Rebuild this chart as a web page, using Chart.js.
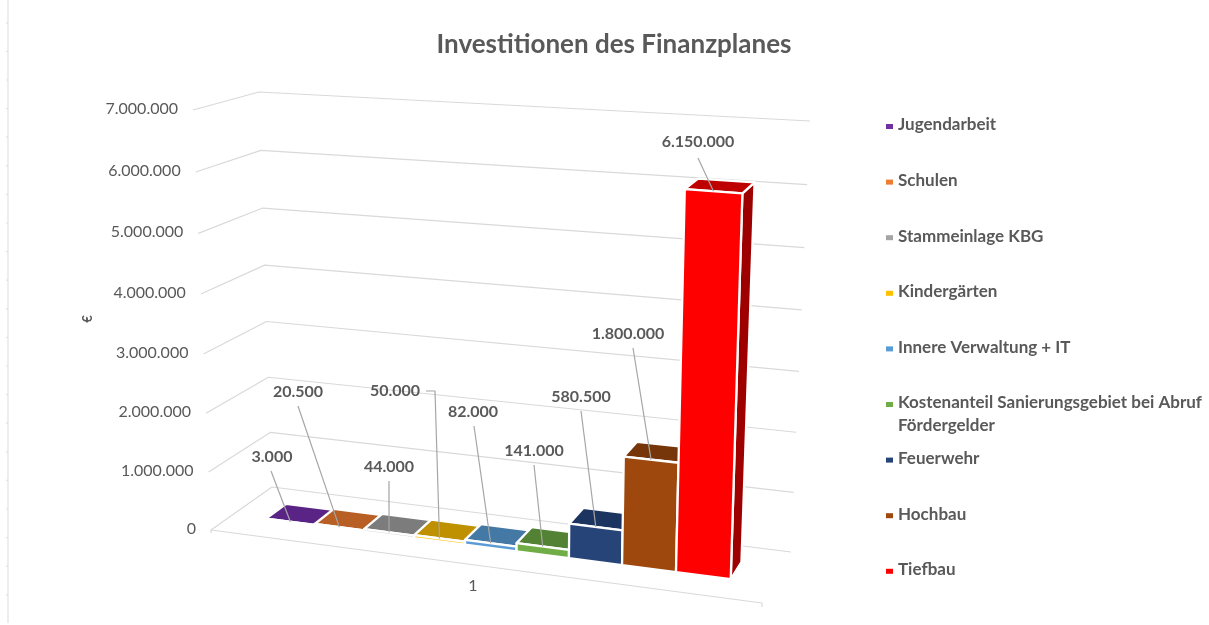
<!DOCTYPE html>
<html lang="de">
<head>
<meta charset="utf-8">
<title>Investitionen des Finanzplanes</title>
<script src="https://cdn.jsdelivr.net/npm/chart.js@4/dist/chart.umd.min.js"></script>
<style>
html,body{margin:0;padding:0;background:#fff;overflow:hidden}
canvas{display:block}
</style>
</head>
<body>
<canvas id="c" width="1209" height="625"></canvas>
<script>
// ---- data ----
const categories = ['1'];
const seriesNames = ['Jugendarbeit','Schulen','Stammeinlage KBG','Kindergärten','Innere Verwaltung + IT','Kostenanteil Sanierungsgebiet bei Abruf Fördergelder','Feuerwehr','Hochbau','Tiefbau'];
const seriesValues = [3000,20500,44000,50000,82000,141000,580500,1800000,6150000];
const yMin = 0, yMax = 7000000, yStep = 1000000;
const chartTitle = 'Investitionen des Finanzplanes';
const yAxisTitle = '€';

// ---- styles ----
const frontColors = ['#7030A0','#ED7D31','#A5A5A5','#FFC000','#5B9BD5','#70AD47','#264478','#9E480E','#FF0000'];
const topColors   = ['#5A2486','#B85F25','#7C7C7C','#BF9000','#4478A5','#548235','#1C3460','#773609','#BF0000'];
const sideColors  = ['#43186A','#8A471C','#5D5D5D','#8F6C00','#335A7C','#3F6128','#152748','#592807','#9E0000'];
const textColor = '#595959', gridColor = '#d9d9d9', leaderColor = '#a6a6a6';
const fontFamily = 'Lato, "Open Sans", sans-serif';

// ---- layout of the pictured 3D box: corners in page pixels ----
const box = {
  f0l:[211,530], f0r:[762,603], b0l:[272,487], b0r:[791,552],
  f1l:[193,110], f1r:[776,152], b1l:[259,92],  b1r:[810,121]
};
const warpU = 1.08, warpV = 1.04, wFront = 0.36, wBack = 0.70, uShift = -0.003;
// label centre, leader start (and optional elbow)
const labelLayout = [
  {c:[272,457], s:[271,471]},
  {c:[298,392], s:[298,406]},
  {c:[389,467], s:[389,481]},
  {c:[395,391], s:[426,391], e:[435,391]},
  {c:[473,412], s:[474,426]},
  {c:[534,451], s:[534,465]},
  {c:[581,397], s:[581,411]},
  {c:[628,334], s:[633,348]},
  {c:[698,142], s:[698,158]}
];
const legendX = 886, legendTextX = 898, legendTop = 125, legendStep = 55.6, legendLine = 23, legendMaxWidth = 312;

const warp = (t,k) => t/(t+(1-t)*k);
const mix = (a,b,t) => [a[0]+(b[0]-a[0])*t, a[1]+(b[1]-a[1])*t];
function project(u,v,w){
  const su = warp(u,warpU), sv = warp(v,warpV);
  const f0 = mix(box.f0l,box.f0r,su), b0 = mix(box.b0l,box.b0r,su);
  const f1 = mix(box.f1l,box.f1r,su), b1 = mix(box.b1l,box.b1r,su);
  return mix(mix(f0,b0,w), mix(f1,b1,w), sv);
}
function poly(ctx,pts,fill){
  ctx.beginPath();
  pts.forEach((p,i)=> i?ctx.lineTo(p[0],p[1]):ctx.moveTo(p[0],p[1]));
  ctx.closePath();
  ctx.fillStyle = fill; ctx.fill();
  ctx.strokeStyle = '#fff'; ctx.lineWidth = 2.3; ctx.lineJoin = 'round'; ctx.stroke();
}
function line(ctx,pts,color,width){
  ctx.beginPath();
  pts.forEach((p,i)=> i?ctx.lineTo(p[0],p[1]):ctx.moveTo(p[0],p[1]));
  ctx.strokeStyle = color; ctx.lineWidth = width; ctx.lineJoin='round'; ctx.stroke();
}
const fmt = n => n.toLocaleString('de-DE');

const scene3d = {
  id:'scene3d',
  beforeDatasetsDraw(chart){
    const ctx = chart.ctx, a = chart.chartArea, ys = chart.scales.y, xs = chart.scales.x;
    ctx.save();
    // margin ruler of the source screenshot
    ctx.strokeStyle = '#e2e2e2'; ctx.lineWidth = 1.2;
    ctx.beginPath(); ctx.moveTo(8,0); ctx.lineTo(8,623);
    for(let y=22.8;y<623;y+=28.6){ctx.moveTo(6,y);ctx.lineTo(8,y);}
    ctx.stroke();
    // wall and floor lines + y labels
    ctx.font = '16px '+fontFamily; ctx.textAlign='right'; ctx.textBaseline='middle';
    ys.ticks.forEach(t=>{
      const v = (a.bottom-ys.getPixelForValue(t.value))/a.height;
      const f = project(0,v,0), b = project(0,v,1), r = project(1,v,1);
      line(ctx,[f,b,r],gridColor,1.2);
      ctx.fillStyle = textColor;
      ctx.fillText(fmt(t.value), f[0]-15, f[1]-1.5);
    });
    line(ctx,[[211,533],project(0,0,0),project(1,0,0),[762,607]],gridColor,1.2);
    // category label
    ctx.fillStyle = textColor; ctx.textAlign='center';
    const cx = project((xs.getPixelForValue(0)-a.left)/a.width,0,0);
    ctx.fillText(categories[0], cx[0]-3, cx[1]+21);
    // y title
    ctx.save(); ctx.translate(88,319); ctx.rotate(-Math.PI/2);
    ctx.font='bold 13px '+fontFamily; ctx.fillText(yAxisTitle,0,0); ctx.restore();
    // bars
    const tops = [];
    chart.data.datasets.forEach((ds,i)=>{
      const el = chart.getDatasetMeta(i).data[0];
      const u0=(el.x-el.width/2-a.left)/a.width+uShift, u1=(el.x+el.width/2-a.left)/a.width+uShift;
      const v=(a.bottom-el.y)/a.height, v0=(a.bottom-el.base)/a.height;
      const P=(u,vv,w)=>project(u,vv,w);
      poly(ctx,[P(u1,v0,wFront),P(u1,v0,wBack),P(u1,v,wBack),P(u1,v,wFront)],sideColors[i]);
      poly(ctx,[P(u0,v,wFront),P(u0,v,wBack),P(u1,v,wBack),P(u1,v,wFront)],topColors[i]);
      poly(ctx,[P(u0,v0,wFront),P(u1,v0,wFront),P(u1,v,wFront),P(u0,v,wFront)],frontColors[i]);
      tops.push(P((u0+u1)/2,v,wFront));
    });
    // leaders and data labels
    ctx.font='bold 16px '+fontFamily; ctx.textAlign='center';
    seriesValues.forEach((val,i)=>{
      const l = labelLayout[i];
      const pts = l.e ? [l.s,l.e,tops[i]] : [l.s,tops[i]];
      line(ctx,pts,leaderColor,1.2);
      ctx.fillStyle=textColor;
      ctx.fillText(fmt(val),l.c[0],l.c[1]);
    });
    // legend
    ctx.textAlign='left'; ctx.font='bold 17px '+fontFamily;
    seriesNames.forEach((name,i)=>{
      const y = legendTop+legendStep*i;
      ctx.fillStyle=frontColors[i];
      ctx.fillRect(legendX,y-1,7,5);
      ctx.fillStyle=textColor;
      let ln='',row=0;
      name.split(' ').forEach(word=>{
        const tryLn = ln?ln+' '+word:word;
        if(ctx.measureText(tryLn).width>legendMaxWidth){ctx.fillText(ln,legendTextX,y+row*legendLine);row++;ln=word;}
        else ln=tryLn;
      });
      ctx.fillText(ln,legendTextX,y+row*legendLine);
    });
    ctx.restore();
    return false; // the bars were drawn above in 3D
  }
};

new Chart(document.getElementById('c'),{
  type:'bar',
  data:{
    labels:categories,
    datasets:seriesNames.map((name,i)=>({label:name,data:[seriesValues[i]],backgroundColor:frontColors[i]}))
  },
  options:{
    responsive:false,
    animation:false,
    layout:{padding:{left:211,right:192,top:0,bottom:95}},
    datasets:{bar:{categoryPercentage:0.862,barPercentage:1}},
    plugins:{
      legend:{display:false},
      tooltip:{enabled:false},
      title:{display:true,text:chartTitle,color:textColor,
        font:{family:fontFamily,size:26,weight:'bold',lineHeight:1.2},
        padding:{top:29,bottom:50}}
    },
    scales:{
      x:{display:false},
      y:{display:false,min:yMin,max:yMax,ticks:{stepSize:yStep}}
    }
  },
  plugins:[scene3d]
});
</script>
</body>
</html>
